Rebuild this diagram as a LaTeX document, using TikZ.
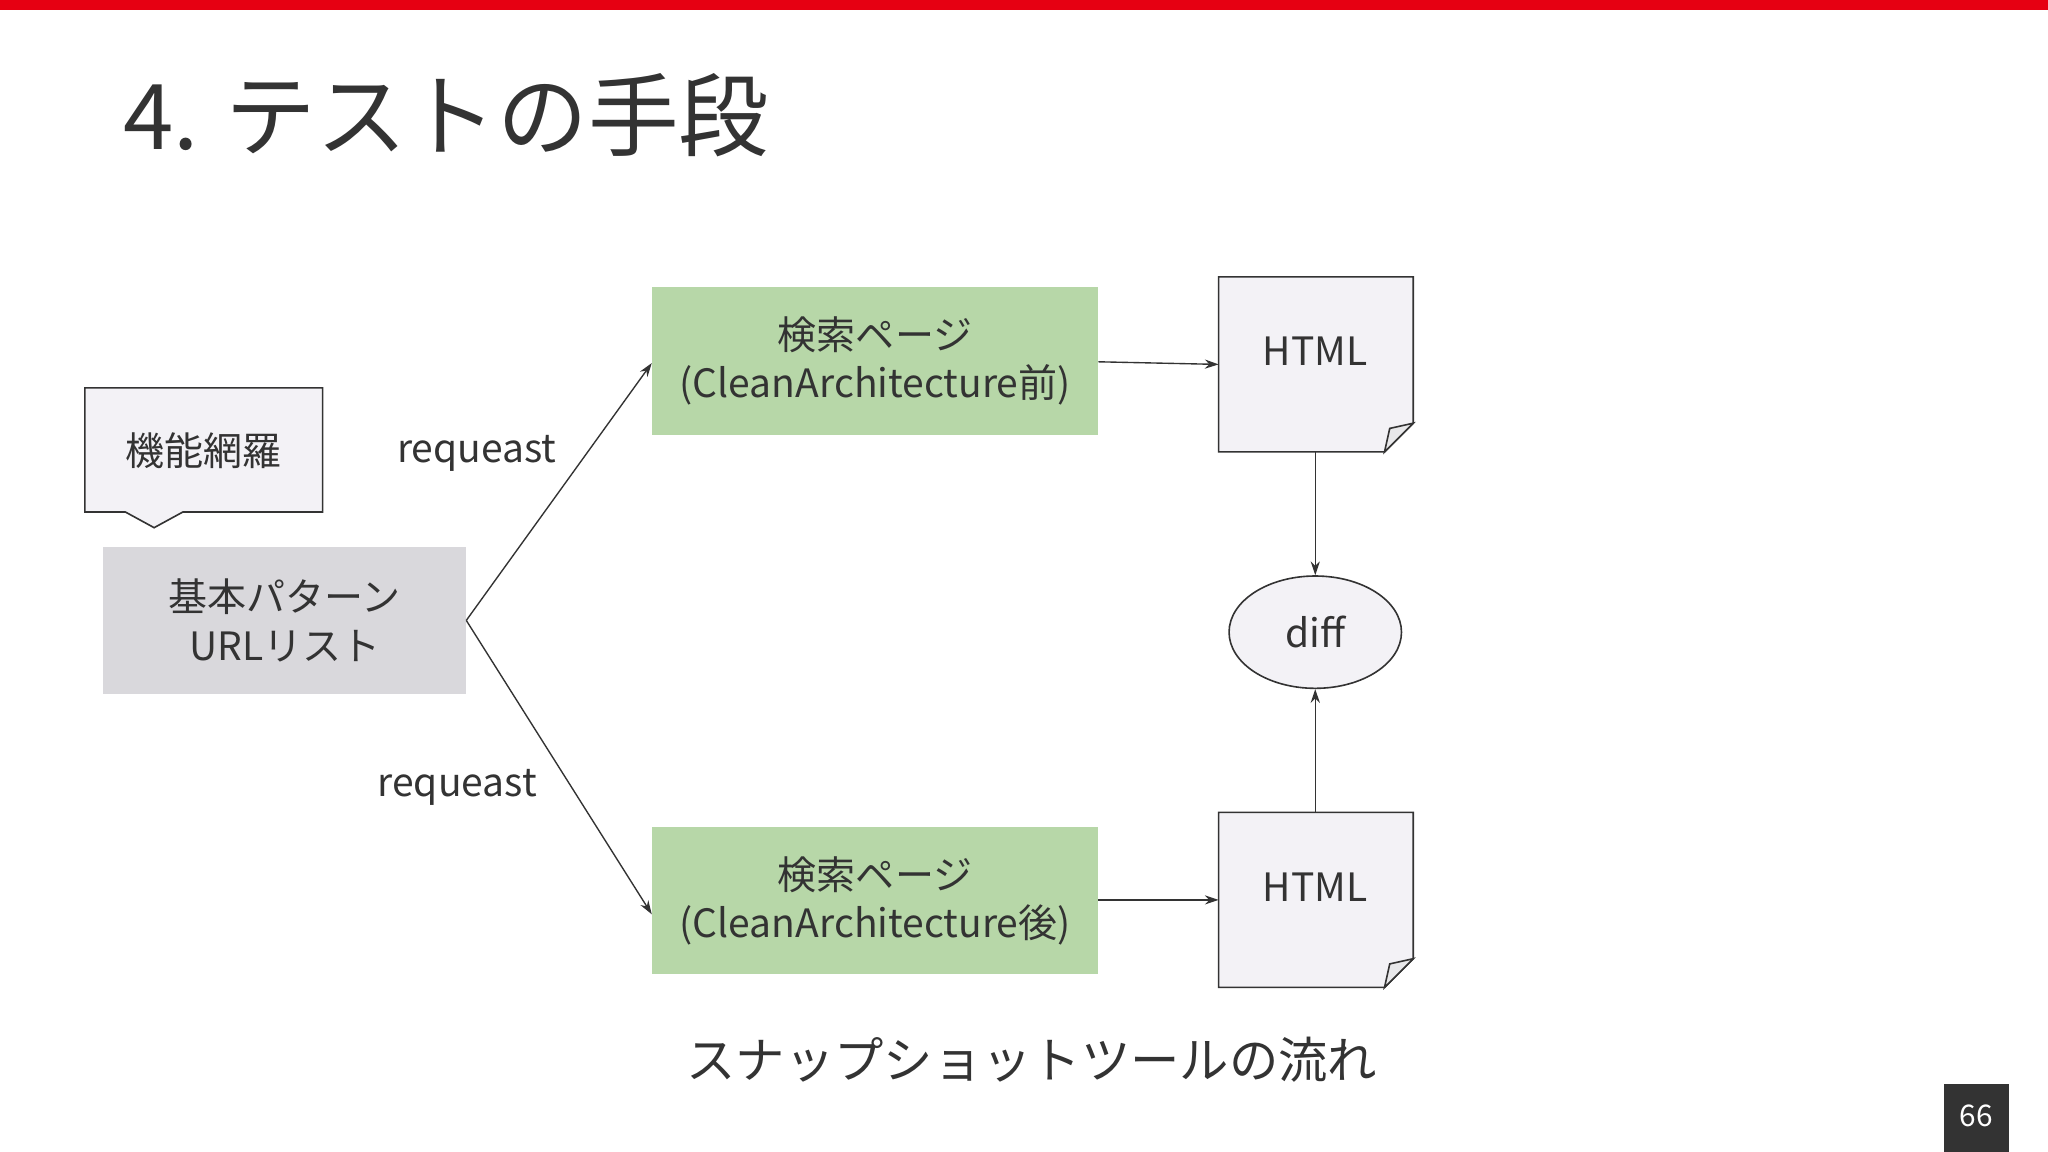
\documentclass[tikz,border=0pt]{standalone}
\usepackage{fontspec}
\setmainfont{Noto Sans CJK JP}
\usetikzlibrary{arrows.meta,shapes.geometric}
\definecolor{redbar}{HTML}{E60012}
\definecolor{green1}{HTML}{B7D7A8}
\definecolor{gray1}{HTML}{D9D8DC}
\definecolor{paper}{HTML}{F3F2F6}
\definecolor{ink}{HTML}{333333}
\begin{document}
\begin{tikzpicture}[x=0.02cm,y=-0.02cm,
  box/.style={draw=none,align=center,inner sep=0pt,font=\fontsize{17}{21}\selectfont,text=ink},
  arr/.style={-{Stealth[length=6pt,width=4pt]},draw=ink,line width=0.6pt},
  doc/.style={fill=paper,draw=ink,line width=0.7pt}]
\useasboundingbox (0,0) rectangle (1568,882);
\fill[white] (0,0) rectangle (1568,882);
\fill[redbar] (0,0) rectangle (1568,8);
\node[anchor=west,text=ink,font=\fontsize{39.5}{46}\selectfont] (title) at (88,88) {4. テストの手段};
% callout
\draw[doc] (65,297) -- (247,297) -- (247,392) -- (140,392) -- (118,404) -- (96,392) -- (65,392) -- cycle;
\node[box] (kino) at (156,345) {機能網羅};
% gray box
\node[box,fill=gray1,minimum width=278*0.02cm,minimum height=113*0.02cm] (url) at (218,475) {基本パターン\\URLリスト};
% green boxes
\node[box,fill=green1,minimum width=342*0.02cm,minimum height=113*0.02cm] (g1) at (670,276.5) {検索ページ\\(CleanArchitecture前)};
\node[box,fill=green1,minimum width=342*0.02cm,minimum height=113*0.02cm] (g2) at (670,689.5) {検索ページ\\(CleanArchitecture後)};
% HTML docs
\draw[doc] (933,212) -- (1082,212) -- (1082,324) -- (1060,346) -- (933,346) -- cycle;
\draw[doc,fill=gray1!60] (1082,324) -- (1064,328) -- (1060,346) -- cycle;
\node[box] (h1) at (1007,269) {HTML};
\draw[doc] (933,622) -- (1082,622) -- (1082,734) -- (1060,756) -- (933,756) -- cycle;
\draw[doc,fill=gray1!60] (1082,734) -- (1064,738) -- (1060,756) -- cycle;
\node[box] (h2) at (1007,679) {HTML};
\coordinate (h1l) at (933,279); \coordinate (h1b) at (1007,346);
\coordinate (h2l) at (933,689); \coordinate (h2t) at (1007,622);
% diff
\node[box,draw=ink,fill=paper,line width=0.7pt,ellipse,minimum width=132*0.02cm,minimum height=86*0.02cm] (diff) at (1007,484) {diff};
% arrows
\coordinate (us) at (357,475);
\coordinate (g1l) at (499,278);
\coordinate (g2l) at (499,700);
\draw[arr] (us) -- (g1l);
\draw[arr] (us) -- (g2l);
\draw[arr] (841,277) -- (h1l);
\draw[arr] (841,689) -- (h2l);
\draw[arr] (h1b) -- (diff.north);
\draw[arr] (h2t) -- (diff.south);
\node[box] (r1) at (365,347) {requeast};
\node[box] (r2) at (350,603) {requeast};
\node[text=ink,font=\fontsize{21.5}{26}\selectfont] (cap) at (790,811) {スナップショットツールの流れ};
\fill[ink] (1488,830) rectangle (1538,882);
\node[text=white,font=\fontsize{13}{15}\selectfont] (pg) at (1513,854) {66};
\end{tikzpicture}
\end{document}
